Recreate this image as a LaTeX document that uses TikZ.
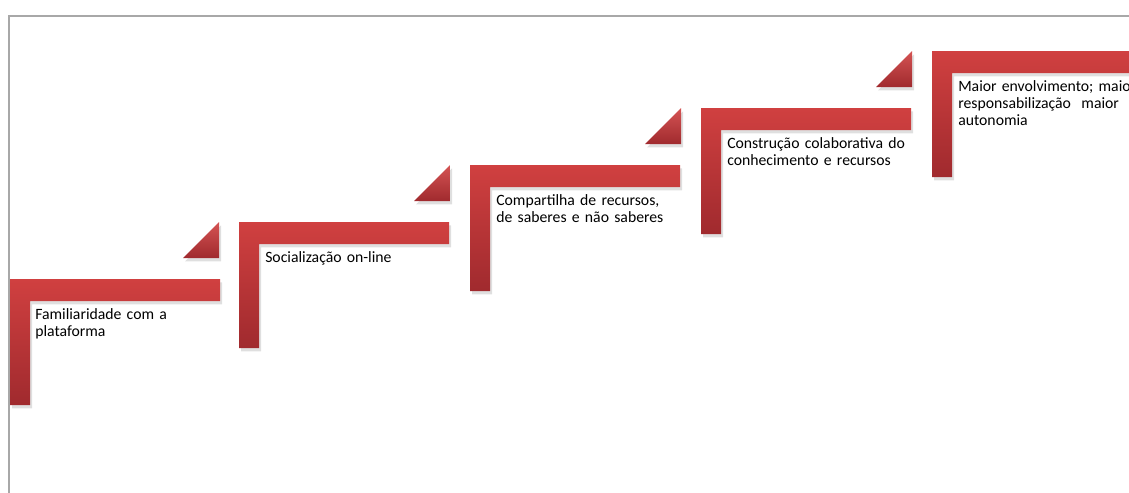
\documentclass[tikz,border=0pt]{standalone}
\usepackage{fontspec}
\setmainfont[WordSpace=0.9]{Carlito}
\usetikzlibrary{shadows}
\definecolor{degrau}{RGB}{208,64,64}
\definecolor{degrauescuro}{RGB}{160,42,46}
\definecolor{moldura}{RGB}{168,168,168}
\tikzset{
  degraustyle/.style={top color=degrau, bottom color=degrauescuro, draw=none,
    drop shadow={opacity=0.25, shadow xshift=1.5pt, shadow yshift=-2.5pt}},
  setastyle/.style={top color=degrau!90!white, bottom color=degrauescuro, draw=none,
    drop shadow={opacity=0.25, shadow xshift=1.5pt, shadow yshift=-2.5pt}},
  textostyle/.style={anchor=north west, inner sep=0pt, text width=150pt, align=left,
    font=\fontsize{11.8}{12.8}\selectfont}
}
\begin{document}
\begin{tikzpicture}[x=0.75pt, y=-0.75pt]

  % Moldura
  \useasboundingbox (0,0) rectangle (1129,493);
  \clip (0,0) rectangle (1129,493);
  \draw[moldura, line width=1.5pt] (9,493) -- (9,15.5) -- (1129,15.5);

  % Degraus
  \path[degraustyle] (10,279) -- (220,279) -- (220,301) -- (30,301) -- (30,405) -- (10,405) -- cycle;
  \path[degraustyle] (239,222) -- (449,222) -- (449,244) -- (259,244) -- (259,348) -- (239,348) -- cycle;
  \path[degraustyle] (470,165) -- (680,165) -- (680,187) -- (490,187) -- (490,291) -- (470,291) -- cycle;
  \path[degraustyle] (701,108) -- (911,108) -- (911,130) -- (721,130) -- (721,234) -- (701,234) -- cycle;
  \path[degraustyle] (932,51) -- (1142,51) -- (1142,73) -- (952,73) -- (952,177) -- (932,177) -- cycle;

  % Setas (triangulos)
  \path[setastyle] (183,258) -- (219,258) -- (219,222) -- cycle;
  \path[setastyle] (414,201) -- (450,201) -- (450,165) -- cycle;
  \path[setastyle] (645,144) -- (681,144) -- (681,108) -- cycle;
  \path[setastyle] (876,87) -- (912,87) -- (912,51) -- cycle;

  % Textos
  \node[textostyle] (familiaridade) at (35,308) {Familiaridade com a\\plataforma};
  \node[textostyle] (socializacao) at (265,251) {Socialização on-line};
  \node[textostyle] (compartilha) at (496,194) {Compartilha de recursos,\\de saberes e não saberes};
  \node[textostyle] (construcao) at (727,137) {Construção colaborativa do\\conhecimento e recursos};
  \node[textostyle] (envolvimento) at (958,80) {Maior envolvimento; maior\\responsabilização~ maior\\autonomia};

\end{tikzpicture}
\end{document}
